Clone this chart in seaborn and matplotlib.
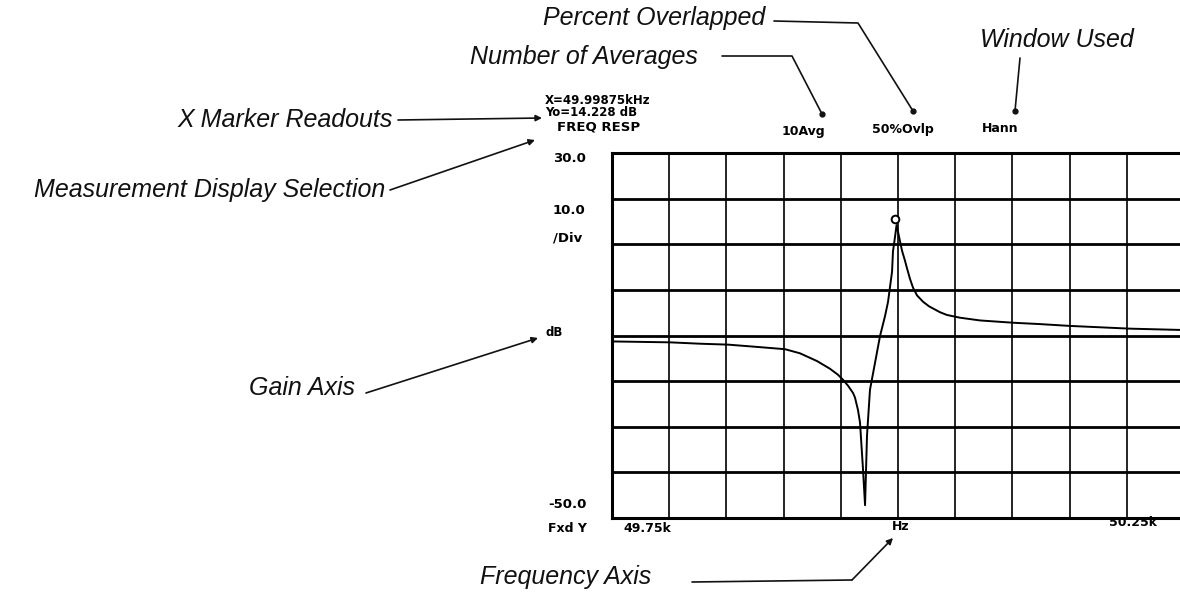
import numpy as np
import pandas as pd
import matplotlib
matplotlib.use("Agg")
import matplotlib.pyplot as plt
import seaborn as sns
from matplotlib.lines import Line2D
from matplotlib.patches import FancyArrowPatch
from matplotlib.transforms import offset_copy

freq_hz = [49750.0, 49800.7, 49826.9, 49851.4, 49876.7, 49901.2, 49914.3, 49929.2,
           49940.6, 49947.5, 49951.9, 49956.3, 49960.7, 49962.4, 49965.0, 49966.8,
           49969.4, 49971.2, 49972.9, 49975.5, 49979.9, 49984.3, 49988.7, 49991.3,
           49994.8, 49995.6, 49997.6, 49998.75, 50000.2, 50003.5, 50006.1, 50007.8,
           50010.5, 50013.1, 50016.6, 50021.9, 50027.1, 50032.3, 50036.7, 50042.8,
           50054.2, 50071.7, 50100.5, 50124.1, 50150.3, 50202.8, 50250.0]
gain_db = [-11.3, -11.5, -11.8, -12.0, -12.5, -13.0, -13.9, -15.6,
           -17.3, -18.6, -19.7, -21.0, -22.6, -23.6, -26.3, -29.1,
           -39.3, -47.2, -32.0, -21.9, -16.0, -10.1, -5.7, -2.6,
           4.0, 8.4, 12.0, 14.2, 12.5, 8.6, 6.4, 4.8,
           2.4, 0.5, -1.2, -2.6, -3.6, -4.3, -4.9, -5.5,
           -6.1, -6.7, -7.2, -7.5, -7.9, -8.5, -8.8]
marker_freq = 49998.75
marker_gain = 14.228
x_start, x_stop, x_step = 49750, 50250, 50
y_bottom, y_top, y_step = -50, 30, 10

readout_lines = ["X=49.99875kHz", "Yo=14.228 dB"]
display_label = "FREQ RESP"
status_labels = ["10Avg", "50%Ovlp", "Hann"]

sns.set_theme(style="white")
plt.rcParams['font.family'] = ['DejaVu Sans']

W, H = 1180, 592
fig = plt.figure(figsize=(W / 100, H / 100), dpi=100)
fig.patch.set_facecolor('white')


def P(x, y):
    return (x / W, 1 - y / H)


ax = fig.add_axes([612 / W, 1 - 518 / H, 572 / W, 365 / H])
df = pd.DataFrame({'freq': freq_hz, 'gain': gain_db})
sns.lineplot(data=df, x='freq', y='gain', ax=ax, color='black', lw=1.4,
             sort=False, estimator=None, legend=False)
ax.plot([marker_freq], [marker_gain], 'o', mfc='white', mec='black', ms=5.5, mew=1.4,
        transform=offset_copy(ax.transData, fig=fig, x=-1, y=4.5, units='points'))

ax.set_xlim(x_start, x_stop)
ax.set_ylim(y_bottom, y_top)
ax.set_xticks(np.arange(x_start, x_stop + 1, x_step))
ax.set_yticks(np.arange(y_bottom, y_top + 1, y_step))
ax.tick_params(labelbottom=False, labelleft=False, length=0)
ax.set_xlabel('')
ax.set_ylabel('')
ax.xaxis.grid(True, color='black', lw=1.2)
ax.yaxis.grid(True, color='black', lw=2.0)
ax.set_axisbelow(True)
for s in ax.spines.values():
    s.set_color('black')
    s.set_linewidth(2.2)
ax.set_facecolor('white')

# ---- instrument screen text ----
mono = dict(family=['DejaVu Sans'], fontweight='bold', color='black', va='center', ha='left')
fig.text(*P(545, 101), readout_lines[0], fontsize=8.5, **mono)
fig.text(*P(545, 112), readout_lines[1], fontsize=8.5, **mono)
fig.text(*P(557, 127), display_label, fontsize=9.5, **mono)
fig.text(*P(553, 158), f"{y_top:.1f}", fontsize=9.5, **mono)
fig.text(*P(553, 211), f"{y_step:.1f}", fontsize=9.5, **mono)
fig.text(*P(553, 238), "/Div", fontsize=9.5, **mono)
fig.text(*P(546, 333), "dB", fontsize=8.5, **mono)
fig.text(*P(548, 505), f"{y_bottom:.1f}", fontsize=9.5, **mono)
fig.text(*P(548, 529), "Fxd Y", fontsize=9, **mono)
fig.text(*P(623, 529), f"{x_start/1000:.2f}k", fontsize=9, **mono)
fig.text(*P(892, 526), "Hz", fontsize=9, **mono)
fig.text(*P(1109, 522), f"{x_stop/1000:.2f}k", fontsize=9, **mono)
fig.text(*P(782, 131), status_labels[0], fontsize=9, **mono)
fig.text(*P(872, 130), status_labels[1], fontsize=9, **mono)
fig.text(*P(982, 128), status_labels[2], fontsize=9, **mono)

# ---- call-out annotations ----
note = dict(family=['Liberation Sans', 'DejaVu Sans'], style='italic', fontsize=18,
            color='#111111', va='center')
fig.text(*P(543, 18), "Percent Overlapped", ha='left', **note)
fig.text(*P(470, 57), "Number of Averages", ha='left', **note)
fig.text(*P(980, 40), "Window Used", ha='left', **note)
fig.text(*P(393, 120), "X Marker Readouts", ha='right', **note)
fig.text(*P(385, 190), "Measurement Display Selection", ha='right', **note)
fig.text(*P(355, 388), "Gain Axis", ha='right', **note)
fig.text(*P(480, 577), "Frequency Axis", ha='left', **note)


def leader(pts, end='dot'):
    xs = [p[0] / W for p in pts]
    ys = [1 - p[1] / H for p in pts]
    if end == 'dot':
        fig.add_artist(Line2D(xs, ys, transform=fig.transFigure, color='#111111', lw=1.2))
        fig.add_artist(Line2D([xs[-1]], [ys[-1]], transform=fig.transFigure, marker='o',
                              ms=3.5, color='#111111', lw=0))
    else:
        if len(pts) > 2:
            fig.add_artist(Line2D(xs[:-1], ys[:-1], transform=fig.transFigure,
                                  color='#111111', lw=1.2))
        fig.add_artist(FancyArrowPatch(
            (xs[-2], ys[-2]), (xs[-1], ys[-1]), transform=fig.transFigure,
            arrowstyle='-|>', mutation_scale=9, color='#111111', lw=1.2,
            shrinkA=0, shrinkB=0))


leader([(774, 21), (858, 23), (913, 111)], 'dot')
leader([(722, 56), (792, 56), (822, 114)], 'dot')
leader([(1020, 58), (1015, 111)], 'dot')
leader([(398, 120), (542, 118)], 'arrow')
leader([(390, 190), (535, 140)], 'arrow')
leader([(366, 393), (538, 338)], 'arrow')
leader([(692, 582), (852, 580), (893, 538)], 'arrow')

fig.savefig('out.png', dpi=100, facecolor='white')
